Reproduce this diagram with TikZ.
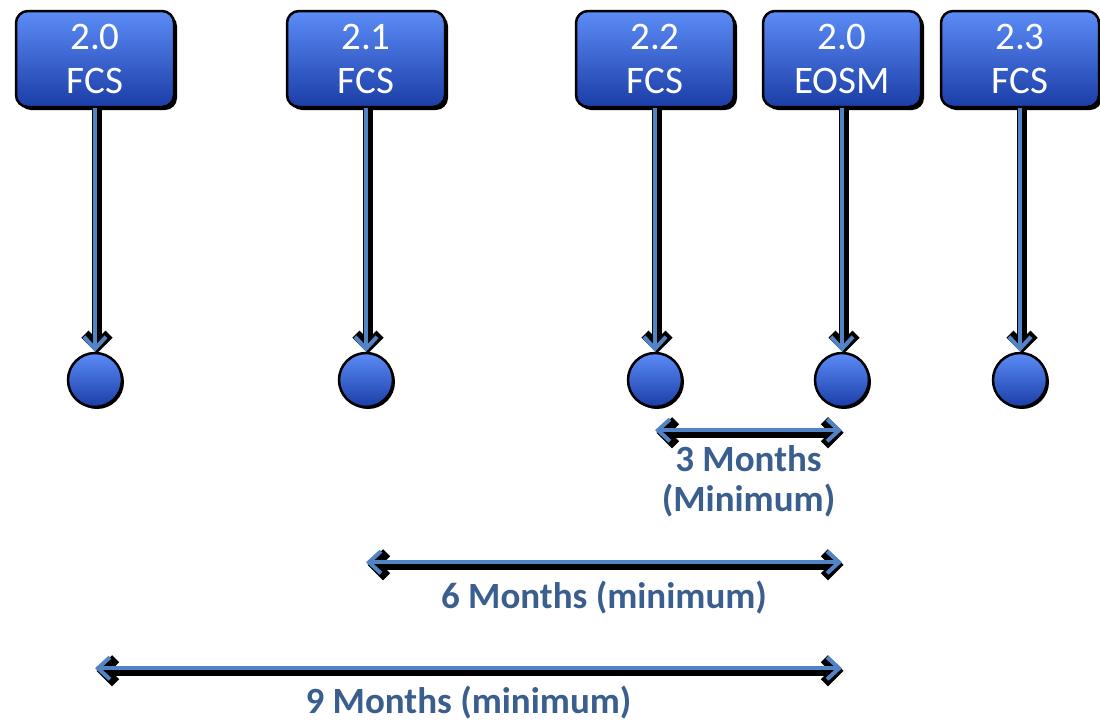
\documentclass[tikz,border=0pt]{standalone}
\usepackage{fontspec}
\setmainfont{Carlito}
\usetikzlibrary{arrows.meta,shadows}
\definecolor{boxtop}{HTML}{5C8CF7}
\definecolor{boxbot}{HTML}{1B3DA6}
\definecolor{linkblue}{HTML}{5283C4}
\definecolor{labelblue}{HTML}{3A5E8E}
\tikzset{
  relbox/.style={draw=black, line width=2.5pt, rounded corners=12pt,
    top color=boxtop, bottom color=boxbot, text=white, align=center,
    minimum width=158pt, minimum height=96pt, inner sep=0pt,
    font=\fontsize{39}{44}\selectfont,
    drop shadow={shadow xshift=3pt, shadow yshift=-3pt, fill=black, opacity=1}},
  dot/.style={circle, draw=black, line width=2.5pt, minimum size=54pt,
    top color=boxtop, bottom color=boxbot,
    drop shadow={shadow xshift=2pt, shadow yshift=-2pt, fill=black, opacity=1}},
  vline/.style={draw=linkblue, line width=4pt, -{Straight Barb[length=12pt,width=22pt]},
    preaction={draw=black, line width=10pt, transform canvas={shift={(2pt,-1.5pt)}},
      -{Straight Barb[length=12pt,width=24pt]}}},
  span/.style={draw=linkblue, line width=4pt,
    {Straight Barb[length=12pt,width=22pt]}-{Straight Barb[length=12pt,width=22pt]},
    preaction={draw=black, line width=10pt, transform canvas={shift={(1.5pt,-2.5pt)}},
      {Straight Barb[length=12pt,width=24pt]}-{Straight Barb[length=12pt,width=24pt]}}},
  spanlabel/.style={text=labelblue, align=center, inner sep=0pt,
    font=\fontsize{37}{40}\selectfont\bfseries}
}
\begin{document}
\begin{tikzpicture}[x=1pt,y=-1pt]
  \useasboundingbox (0,0) rectangle (1100,721);
  % releases
  \foreach \x/\v/\t [count=\i] in {95/2.0/FCS, 366/2.1/FCS, 655/2.2/FCS, 842/2.0/EOSM, 1020/2.3/FCS}
    {\node[relbox] (b\i) at (\x,59) {\v\\\t};
     \node[dot] (c\i) at (\x,380) {};
     \draw[vline] (b\i) -- (c\i);}
  % support windows
  \draw[span] ([yshift=-22pt]c3.south) -- ([yshift=-22pt]c4.south)
    node[midway, below=13pt, spanlabel] (m3) {3 Months\\(Minimum)};
  \draw[span] ([yshift=-154pt]c2.south) -- ([yshift=-154pt]c4.south)
    node[midway, below=17pt, spanlabel] (m6) {6 Months (minimum)};
  \draw[span] ([yshift=-260pt]c1.south) -- ([yshift=-260pt]c4.south)
    node[midway, below=16pt, spanlabel] (m9) {9 Months (minimum)};
\end{tikzpicture}
\end{document}
